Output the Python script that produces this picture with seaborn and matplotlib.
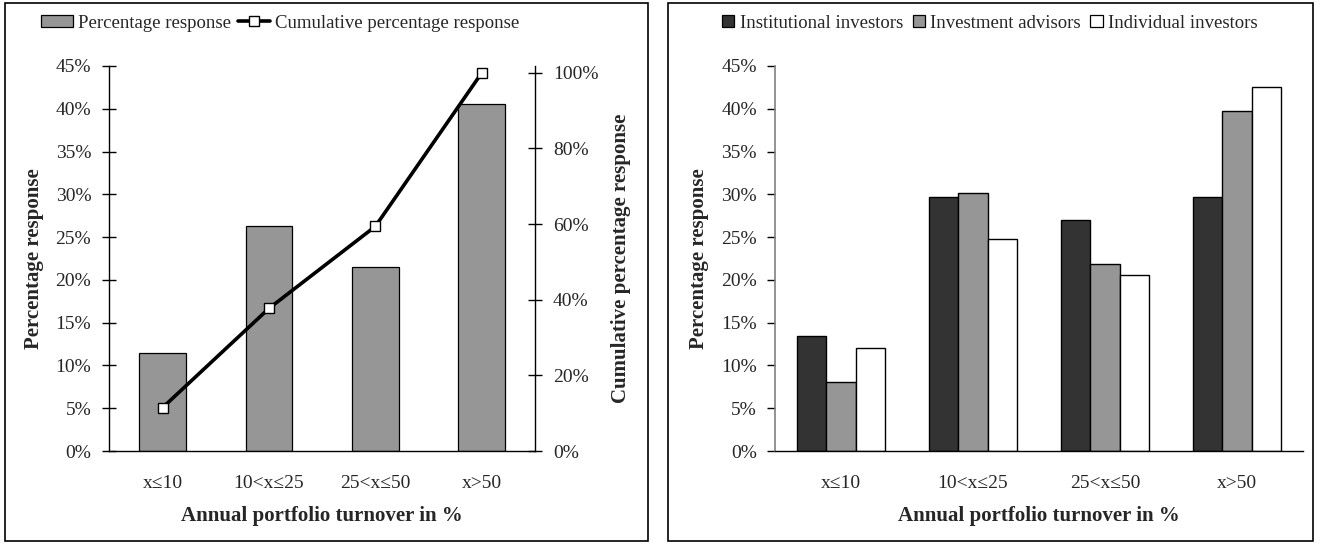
import matplotlib
matplotlib.use("Agg")
import matplotlib.pyplot as plt
import seaborn as sns
import numpy as np
import pandas as pd
from matplotlib.ticker import PercentFormatter, FixedLocator, MultipleLocator
from matplotlib.patches import Rectangle, Patch
from matplotlib.lines import Line2D

# ---------------- data ----------------
categories = ["x≤10", "10<x≤25", "25<x≤50", "x>50"]
pct_response = [11.45, 26.3, 21.5, 40.6]
cum_response = [11.45, 37.7, 59.4, 100.0]

groups = ["Institutional investors", "Investment advisors", "Individual investors"]
institutional = [13.5, 29.7, 27.0, 29.7]
advisors = [8.1, 30.1, 21.9, 39.7]
individual = [12.0, 24.8, 20.6, 42.5]

x_title = "Annual portfolio turnover in %"
y_title = "Percentage response"
y2_title = "Cumulative percentage response"

# ---------------- style ----------------
sns.set_style("white")
plt.rcParams["font.family"] = ["Liberation Serif", "DejaVu Serif"]
plt.rcParams["font.size"] = 14

TICK_FS = 14
TITLE_FS = 15
LEG_FS = 13.5

W, H = 1320, 544
fig = plt.figure(figsize=(W / 100, H / 100), dpi=100)

bottom_px, top_px = 451, 66
ax1 = fig.add_axes([109.3 / W, 1 - bottom_px / H, (535 - 109.3) / W, (bottom_px - top_px) / H])
ax2 = fig.add_axes([775 / W, 1 - bottom_px / H, (1303 - 775) / W, (bottom_px - top_px) / H])

GRAY = "#969696"
DARK = "#333333"

# ---------------- left chart ----------------
df1 = pd.DataFrame({"cat": categories, "pct": pct_response})
sns.barplot(data=df1, x="cat", y="pct", color=GRAY, saturation=1, width=0.44,
            edgecolor="black", linewidth=0.9, ax=ax1)
ax1.set_xlim(-0.5, len(categories) - 0.5)
ax1.set_ylim(0, 45)
ax1.yaxis.set_major_locator(MultipleLocator(5))
ax1.yaxis.set_major_formatter(PercentFormatter(decimals=0))
ax1.xaxis.set_minor_locator(FixedLocator(np.arange(len(categories) + 1) - 0.5))
ax1.tick_params(axis="x", which="major", length=0, pad=17, labelsize=TICK_FS)
ax1.tick_params(axis="x", which="minor", direction="inout", length=10, width=1, color="black")
ax1.tick_params(axis="y", which="major", direction="inout", length=10, width=1, pad=8,
                left=True, color="black", labelsize=TICK_FS)
for s in ["top", "right"]:
    ax1.spines[s].set_visible(False)
for s in ["left", "bottom"]:
    ax1.spines[s].set_color("black")
    ax1.spines[s].set_linewidth(1)
ax1.set_xlabel(x_title, fontweight="bold", fontsize=TITLE_FS)
ax1.set_ylabel(y_title, fontweight="bold", fontsize=TITLE_FS)
ax1.xaxis.set_label_coords(0.5, -0.143)
ax1.yaxis.set_label_coords(-0.153, 0.5)

tw = ax1.twinx()
sns.lineplot(x=np.arange(len(categories)), y=cum_response, ax=tw, color="black",
             linewidth=2.6, marker="s", markersize=7, markerfacecolor="white",
             markeredgecolor="black", markeredgewidth=1)
tw.set_ylim(0, 101.8)
tw.set_xlim(-0.5, len(categories) - 0.5)
tw.yaxis.set_major_locator(MultipleLocator(20))
tw.yaxis.set_major_formatter(PercentFormatter(decimals=0))
tw.tick_params(axis="y", which="major", direction="inout", length=10, width=1, pad=8,
               right=True, color="black", labelsize=TICK_FS)
for s in ["top", "left", "bottom"]:
    tw.spines[s].set_visible(False)
tw.spines["right"].set_color("black")
tw.spines["right"].set_linewidth(1)
tw.set_ylabel(y2_title, fontweight="bold", fontsize=TITLE_FS)
tw.yaxis.set_label_coords(1.178, 0.5)

handles1 = [Patch(facecolor=GRAY, edgecolor="black", linewidth=0.9),
            Line2D([0], [0], color="black", lw=2.6, marker="s", markersize=7,
                   markerfacecolor="white", markeredgecolor="black", markeredgewidth=1)]
fig.legend(handles1, [y_title, y2_title], loc="center", bbox_to_anchor=(280 / W, 1 - 23 / H),
           ncol=2, frameon=False, handlelength=1.7, handleheight=0.6, handletextpad=0.25,
           columnspacing=0.4, fontsize=LEG_FS, borderaxespad=0)

# ---------------- right chart ----------------
df2 = pd.DataFrame({
    "cat": categories * 3,
    "group": sum([[g] * len(categories) for g in groups], []),
    "value": institutional + advisors + individual,
})
sns.barplot(data=df2, x="cat", y="value", hue="group", hue_order=groups, order=categories,
            palette=[DARK, GRAY, "white"], saturation=1, width=0.66, gap=0,
            edgecolor="black", linewidth=1, ax=ax2, legend=False)
ax2.set_xlim(-0.5, len(categories) - 0.5)
ax2.set_ylim(0, 45)
ax2.yaxis.set_major_locator(MultipleLocator(5))
ax2.yaxis.set_major_formatter(PercentFormatter(decimals=0))
ax2.xaxis.set_minor_locator(FixedLocator(np.arange(len(categories) + 1) - 0.5))
ax2.tick_params(axis="x", which="major", length=0, pad=17, labelsize=TICK_FS)
ax2.tick_params(axis="x", which="minor", direction="out", length=5, width=1, color="black")
ax2.tick_params(axis="y", which="major", direction="out", length=6, width=1, pad=7,
                left=True, color="black", labelsize=TICK_FS)
for s in ["top", "right"]:
    ax2.spines[s].set_visible(False)
ax2.spines["left"].set_color("#808080")
ax2.spines["left"].set_linewidth(1.2)
ax2.spines["bottom"].set_color("black")
ax2.spines["bottom"].set_linewidth(1)
ax2.set_xlabel(x_title, fontweight="bold", fontsize=TITLE_FS)
ax2.set_ylabel(y_title, fontweight="bold", fontsize=TITLE_FS)
ax2.xaxis.set_label_coords(0.5, -0.143)
ax2.yaxis.set_label_coords(-0.125, 0.5)

handles2 = [Patch(facecolor=c, edgecolor="black", linewidth=0.9) for c in [DARK, GRAY, "white"]]
fig.legend(handles2, groups, loc="center", bbox_to_anchor=(990 / W, 1 - 23 / H),
           ncol=3, frameon=False, handlelength=0.65, handleheight=0.65, handletextpad=0.3,
           columnspacing=0.5, fontsize=LEG_FS, borderaxespad=0)

# ---------------- frames ----------------
fig.add_artist(Rectangle((5 / W, 3 / H), (648 - 5) / W, (541 - 3) / H, transform=fig.transFigure,
                         fill=False, edgecolor="black", linewidth=1.2))
fig.add_artist(Rectangle((668 / W, 3 / H), (1313 - 668) / W, (541 - 3) / H, transform=fig.transFigure,
                         fill=False, edgecolor="black", linewidth=1.2))

fig.savefig("out.png", dpi=100)
